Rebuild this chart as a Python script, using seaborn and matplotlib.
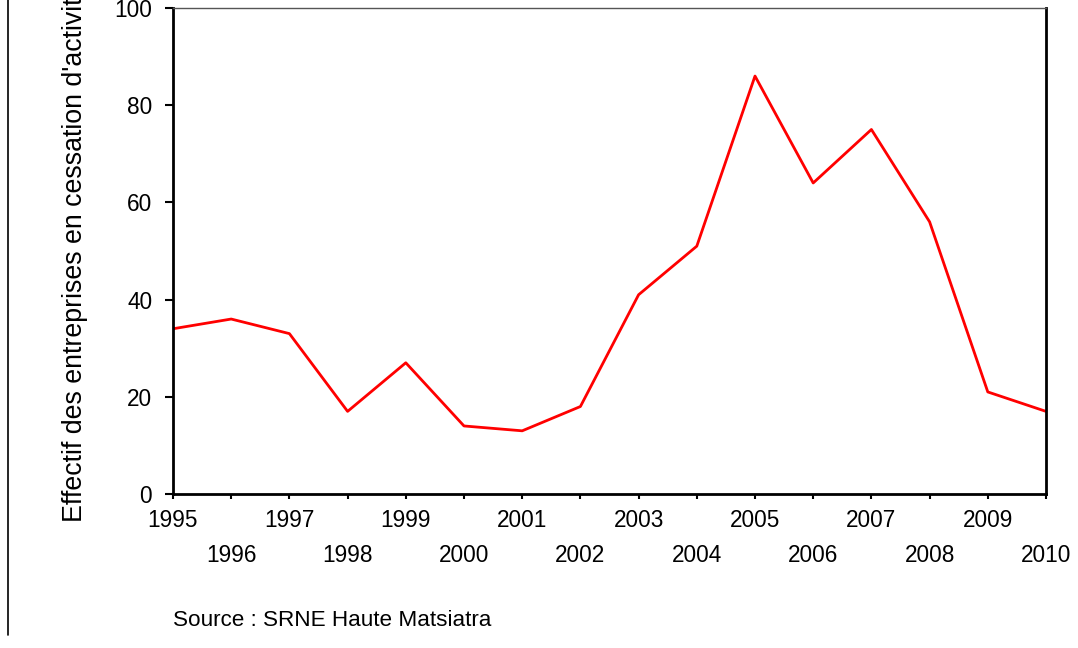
import matplotlib
matplotlib.use('Agg')
import matplotlib.pyplot as plt
import seaborn as sns
import pandas as pd
from matplotlib.lines import Line2D
from matplotlib.ticker import FixedLocator

# Data
years = list(range(1995, 2011))
cessations = [34, 36, 33, 17, 27, 14, 13, 18, 41, 51, 86, 64, 75, 56, 21, 17]
y_ticks = [0, 20, 40, 60, 80, 100]
y_label = "Effectif des entreprises en cessation d'activité"
source_note = "Source : SRNE Haute Matsiatra"

sns.set_style('white')
plt.rcParams['font.family'] = ['Liberation Sans', 'DejaVu Sans']
plt.rcParams['text.color'] = 'black'
plt.rcParams['xtick.color'] = 'black'
plt.rcParams['ytick.color'] = 'black'
FS = 16.3

df = pd.DataFrame({'annee': years, 'effectif': cessations})

fig = plt.figure(figsize=(10.78, 6.48), dpi=100)
ax = fig.add_axes([173 / 1078, 1 - 494 / 648, (1046 - 173) / 1078, (494 - 8) / 648])

sns.lineplot(data=df, x='annee', y='effectif', ax=ax, color='#ff0000', linewidth=2)

ax.set_xlim(1995, 2010)
ax.set_ylim(0, 100)
ax.set_xlabel('')
ax.set_ylabel('')

# staggered year labels: odd years on the first row, even years lower
ax.xaxis.set_major_locator(FixedLocator(years[0::2]))
ax.xaxis.set_minor_locator(FixedLocator(years[1::2]))
ax.set_xticklabels([str(y) for y in years[0::2]])
ax.set_xticklabels([str(y) for y in years[1::2]], minor=True)
ax.tick_params(axis='x', which='major', direction='out', length=3.5, width=1.5,
               pad=7, labelsize=FS, labelcolor='black', bottom=True)
ax.tick_params(axis='x', which='minor', direction='out', length=3.5, width=1.5,
               pad=32.2, labelsize=FS, labelcolor='black', bottom=True)

ax.set_yticks(y_ticks)
ax.set_yticklabels([str(v) for v in y_ticks])
ax.tick_params(axis='y', direction='out', length=6, width=1.5, pad=9,
               labelsize=FS, labelcolor='black', left=True)

for side in ['left', 'bottom', 'right']:
    ax.spines[side].set_color('black')
    ax.spines[side].set_linewidth(2)
ax.spines['top'].set_color('#555555')
ax.spines['top'].set_linewidth(1)

# the reference crops this label at the top edge of the figure
fig.text(75 / 1078, 1 - 522 / 648, y_label, rotation=90, ha='center', va='bottom',
         fontsize=19.3, color='black')
fig.text(173 / 1078, 1 - 620 / 648, source_note, ha='left', va='center',
         fontsize=16.2, color='black')

# vertical rule at the far left
fig.add_artist(Line2D([8 / 1078, 8 / 1078], [1, 1 - 635 / 648],
                      transform=fig.transFigure, color='black', linewidth=1.2))

fig.savefig('out.png', dpi=100)
